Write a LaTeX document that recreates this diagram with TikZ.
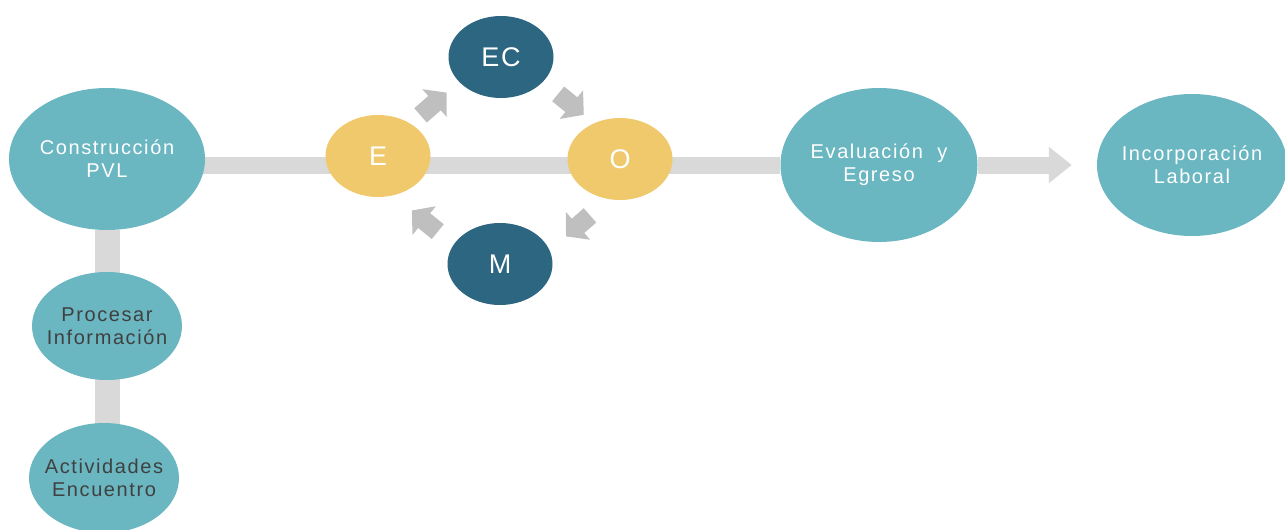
\documentclass[tikz,border=0pt]{standalone}
\usepackage{fontspec}
\setmainfont{Liberation Sans}[LetterSpace=8]
\newfontfamily\ciclofont{Liberation Sans}[LetterSpace=6]
\usetikzlibrary{shapes.geometric,arrows.meta,calc,backgrounds}
\definecolor{turquesa}{RGB}{106,182,193}
\definecolor{azul}{RGB}{44,102,129}
\definecolor{amarillo}{RGB}{240,201,109}
\definecolor{barra}{RGB}{217,217,217}
\definecolor{flechagris}{RGB}{191,191,191}
\definecolor{textogris}{RGB}{64,64,64}

\begin{document}
\begin{tikzpicture}[x=1pt,y=-1pt,
  etapa/.style={ellipse,fill=turquesa,inner sep=-8pt,align=center,font=\fontsize{20}{23}\selectfont},
  ciclo/.style={ellipse,inner sep=-8pt,text=white,font=\ciclofont\fontsize{27}{30}\selectfont,minimum width=105pt,minimum height=82pt},
  tramo/.style={draw=barra,line width=17pt},
  flechita/.style={draw=flechagris,line width=19pt,-{Triangle[width=36pt,length=16pt]}}]
\useasboundingbox (0,0) rectangle (1285,530);

\node (PVL) at (107,159) [etapa,text=white,minimum width=196pt,minimum height=142pt] {Construcción\\PVL};
\node (Proc) at (107,326) [etapa,text=textogris,minimum width=150pt,minimum height=108pt] {Procesar\\Información};
\node (Act) at (104,478) [etapa,text=textogris,minimum width=150pt,minimum height=110pt] {Actividades\\Encuentro};

\node (E) at (378,156) [ciclo,fill=amarillo] {E};
\node (EC) at (501,57) [ciclo,fill=azul] {EC};
\node (O) at (620,159) [ciclo,fill=amarillo] {O};
\node (M) at (500,264) [ciclo,fill=azul] {M};

\node (EvEg) at (879,165) [etapa,text=white,minimum width=197pt,minimum height=154pt] {Evaluación\ \ y\\Egreso};
\node (IncLab) at (1192,165) [etapa,text=white,minimum width=190pt,minimum height=142pt] {Incorporación\\Laboral};

\coordinate (eje) at (0,165);
\begin{scope}[on background layer]
\draw[tramo,line width=25pt] (PVL) -- (PVL |- Act);
\draw[tramo] (PVL |- eje) -- (EvEg);
\end{scope}
\draw[tramo,-{Triangle[width=35pt,length=23pt]},shorten >=25pt] (EvEg) -- (IncLab);

\draw[flechita] ($(E)!0.37!(EC)+(-3,-4)$) -- ($(E)!0.59!(EC)+(-4,-5)$);
\draw[flechita] ($(EC)!0.43!(O)+(6,-7)$) -- ($(EC)!0.645!(O)+(6,-8)$);
\draw[flechita] ($(O)!0.375!(M)+(15,17)$) -- ($(O)!0.575!(M)+(15,17)$);
\draw[flechita] ($(M)!0.42!(E)+(-11,13)$) -- ($(M)!0.625!(E)+(-12,14)$);
\end{tikzpicture}
\end{document}
